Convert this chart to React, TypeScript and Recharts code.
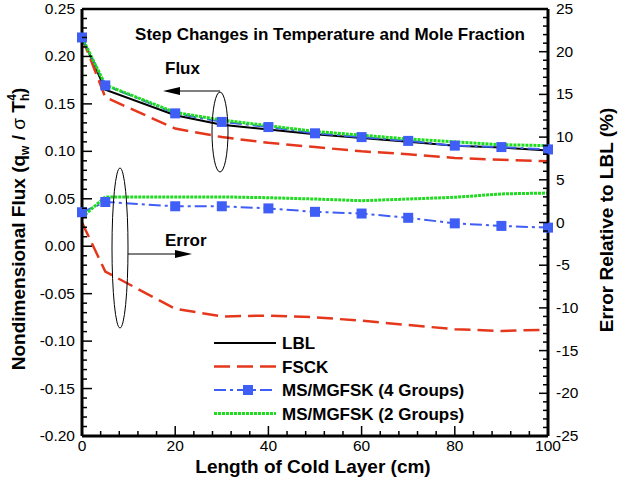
import React from 'react';
import { ComposedChart, Line, XAxis, YAxis, ReferenceLine } from 'recharts';

const FONT = '"Liberation Sans", Arial, Helvetica, sans-serif';

// cold layer length (cm)
const lengths = [0, 5, 20, 30, 40, 50, 60, 70, 80, 90, 100];

// nondimensional flux, left axis
const lblFlux = [0.22, 0.165, 0.138, 0.128, 0.123, 0.118, 0.114, 0.11, 0.106, 0.104, 0.101];
const fsckFlux = [0.22, 0.157, 0.124, 0.115, 0.109, 0.1045, 0.1, 0.097, 0.093, 0.091, 0.0895];
const ms4Flux = [0.22, 0.1695, 0.14, 0.131, 0.1256, 0.119, 0.115, 0.111, 0.106, 0.1045, 0.102];
const ms2Flux = [0.22, 0.17, 0.141, 0.133, 0.127, 0.121, 0.117, 0.113, 0.11, 0.107, 0.106];

// error relative to LBL (%), right axis
const fsckErr = [0.0, -5.75, -10.1, -11.0, -10.9, -11.1, -11.5, -12.0, -12.5, -12.7, -12.55];
const ms4Err = [1.2, 2.4, 1.9, 1.9, 1.65, 1.25, 1.05, 0.55, -0.1, -0.4, -0.6];
const ms2Err = [0.6, 3.0, 3.0, 3.0, 2.9, 2.75, 2.55, 2.75, 2.95, 3.35, 3.45];

const xTicks: number[] = [];
for (let i = 0; i <= 100; i += 4) xTicks.push(i);
const leftTicks: number[] = [];
for (let i = -20; i <= 25; i++) leftTicks.push(i / 100);
const rightTicks: number[] = [];
for (let i = -25; i <= 25; i++) rightTicks.push(i);

const data = lengths.map((x, i) => ({
  x,
  lblFlux: lblFlux[i],
  fsckFlux: fsckFlux[i],
  ms4Flux: ms4Flux[i],
  ms2Flux: ms2Flux[i],
  fsckErr: fsckErr[i],
  ms4Err: ms4Err[i],
  ms2Err: ms2Err[i],
}));

const RED = '#e5371c';
const BLUE = '#3f5ef5';
const GREEN = '#1edc1e';

const tickText = { fontFamily: FONT, fontSize: 15.5, fill: '#000' };

const BottomTick = (props: any) => {
  const { x, y, payload } = props;
  const major = payload.value % 20 === 0;
  return (
    <g>
      <line x1={x} x2={x} y1={y} y2={y - (major ? 10 : 5)} stroke="#000" strokeWidth={1.5} />
      {major && (
        <text x={x} y={y + 15} textAnchor="middle" {...tickText}>
          {payload.value}
        </text>
      )}
    </g>
  );
};

const LeftTick = (props: any) => {
  const { x, y, payload } = props;
  const v = Math.round(payload.value * 100);
  const major = v % 5 === 0;
  return (
    <g>
      <line x1={x} x2={x + (major ? 10 : 5)} y1={y} y2={y} stroke="#000" strokeWidth={1.5} />
      {major && (
        <text x={x - 7} y={y + 5} textAnchor="end" {...tickText}>
          {(v / 100).toFixed(2)}
        </text>
      )}
    </g>
  );
};

const RightTick = (props: any) => {
  const { x, y, payload } = props;
  const major = payload.value % 5 === 0;
  return (
    <g>
      <line x1={x} x2={x - (major ? 9 : 5)} y1={y} y2={y} stroke="#000" strokeWidth={1.5} />
      {major && (
        <text x={x + 8} y={y + 5} textAnchor="start" {...tickText}>
          {payload.value}
        </text>
      )}
    </g>
  );
};

const Square = (props: any) => {
  const { cx, cy } = props;
  if (cx == null || cy == null) return null;
  return <rect x={cx - 5} y={cy - 5} width={10} height={10} fill={BLUE} />;
};

const legendRows = [
  { name: 'LBL', stroke: '#000', dash: undefined, width: 2, square: false },
  { name: 'FSCK', stroke: RED, dash: '16 7', width: 2.5, square: false },
  { name: 'MS/MGFSK (4 Groups)', stroke: BLUE, dash: '12 4 3 4', width: 2, square: true },
  { name: 'MS/MGFSK (2 Groups)', stroke: GREEN, dash: '3 1', width: 3, square: false },
];

const Overlay = () => (
  <svg
    width={620}
    height={484}
    style={{ position: 'absolute', left: 0, top: 0, pointerEvents: 'none' }}
    fontFamily={FONT}
  >
    <text x={330} y={40} textAnchor="middle" fontSize={17} fontWeight="bold">
      Step Changes in Temperature and Mole Fraction
    </text>

    {/* flux annotation */}
    <text x={165} y={74} fontSize={17} fontWeight="bold">Flux</text>
    <ellipse cx={220} cy={132} rx={8} ry={40} fill="none" stroke="#000" strokeWidth={1} />
    <line x1={220} y1={91} x2={176} y2={91} stroke="#000" strokeWidth={1} />
    <polygon points="163,91 180,87 180,95" fill="#000" />

    {/* error annotation */}
    <text x={165} y={246} fontSize={17} fontWeight="bold">Error</text>
    <ellipse cx={120} cy={248} rx={8} ry={80} fill="none" stroke="#000" strokeWidth={1} />
    <line x1={128} y1={254} x2={178} y2={254} stroke="#000" strokeWidth={1} />
    <polygon points="192,254 175,250 175,258" fill="#000" />

    {/* legend */}
    {legendRows.map((r, i) => {
      const y = 343 + i * 23.5;
      return (
        <g key={r.name}>
          <line x1={214} x2={276} y1={y} y2={y} stroke={r.stroke} strokeWidth={r.width} strokeDasharray={r.dash} />
          {r.square && <rect x={243} y={y - 5} width={10} height={10} fill={BLUE} />}
          <text x={282} y={y + 6} fontSize={17} fontWeight="bold">{r.name}</text>
        </g>
      );
    })}

    {/* axis titles */}
    <text x={313} y={473} textAnchor="middle" fontSize={19} fontWeight="bold">
      Length of Cold Layer (cm)
    </text>
    <text transform="translate(25,229) rotate(-90)" textAnchor="middle" fontSize={19} fontWeight="bold">
      Nondimensional Flux (q
      <tspan fontSize={12} dy={4}>w</tspan>
      <tspan dy={-4}> / </tspan>
      <tspan fontWeight="normal">σ</tspan>
      <tspan> T</tspan>
      <tspan fontSize={12} dy={4}>h</tspan>
      <tspan fontSize={12} dx={-7} dy={-13}>4</tspan>
      <tspan dy={9}>)</tspan>
    </text>
    <text transform="translate(613,220) rotate(-90)" textAnchor="middle" fontSize={19} fontWeight="bold">
      Error Relative to LBL (%)
    </text>
  </svg>
);

export default function App() {
  return (
    <div style={{ position: 'absolute', left: 0, top: 0, width: 620, height: 484, background: '#fff' }}>
      <ComposedChart width={620} height={484} data={data} margin={{ top: 9, right: 0, bottom: 0, left: 0 }}>
        <XAxis
          dataKey="x"
          type="number"
          domain={[0, 100]}
          ticks={xTicks}
          interval={0}
          height={48}
          tickSize={0}
          tickMargin={0}
          tick={<BottomTick />}
          axisLine={{ stroke: '#000', strokeWidth: 3 }}
        />
        <YAxis
          yAxisId="left"
          type="number"
          domain={[-0.2, 0.25]}
          ticks={leftTicks}
          interval={0}
          width={82}
          tickSize={0}
          tickMargin={0}
          tick={<LeftTick />}
          axisLine={{ stroke: '#000', strokeWidth: 3 }}
          allowDataOverflow
        />
        <YAxis
          yAxisId="right"
          orientation="right"
          type="number"
          domain={[-25, 25]}
          ticks={rightTicks}
          interval={0}
          width={72}
          tickSize={0}
          tickMargin={0}
          tick={<RightTick />}
          axisLine={{ stroke: '#000', strokeWidth: 3 }}
          allowDataOverflow
        />
        <ReferenceLine yAxisId="left" y={0.25} stroke="#000" strokeWidth={2.5} />

        <Line yAxisId="left" dataKey="lblFlux" stroke="#000" strokeWidth={2} dot={false} isAnimationActive={false} />
        <Line yAxisId="left" dataKey="fsckFlux" stroke={RED} strokeWidth={2.5} strokeDasharray="16 7" dot={false} isAnimationActive={false} />
        <Line yAxisId="left" dataKey="ms4Flux" stroke={BLUE} strokeWidth={2} strokeDasharray="12 4 3 4" dot={<Square />} isAnimationActive={false} />
        <Line yAxisId="left" dataKey="ms2Flux" stroke={GREEN} strokeWidth={3} strokeDasharray="3 1" dot={false} isAnimationActive={false} />

        <Line yAxisId="right" dataKey="fsckErr" stroke={RED} strokeWidth={2.5} strokeDasharray="16 7" dot={false} isAnimationActive={false} />
        <Line yAxisId="right" dataKey="ms4Err" stroke={BLUE} strokeWidth={2} strokeDasharray="12 4 3 4" dot={<Square />} isAnimationActive={false} />
        <Line yAxisId="right" dataKey="ms2Err" stroke={GREEN} strokeWidth={3} strokeDasharray="3 1" dot={false} isAnimationActive={false} />
      </ComposedChart>
      <Overlay />
    </div>
  );
}
